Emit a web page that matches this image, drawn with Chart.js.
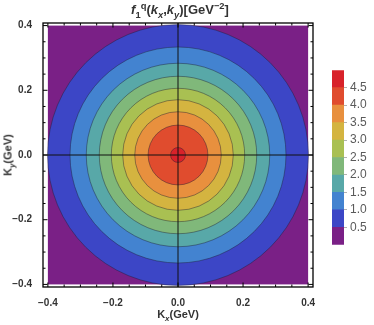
<!DOCTYPE html>
<html>
<head>
<meta charset="utf-8">
<script src="https://cdn.jsdelivr.net/npm/chart.js@4.4.1/dist/chart.umd.min.js"></script>
<style>
  body { margin: 0; background: #fff; }
  #wrap { position: relative; width: 374px; height: 325px; font-family: 'Liberation Sans', Arial, sans-serif; }
  canvas { position: absolute; }
  .lbl { position: absolute; font-weight: bold; color: #333; white-space: nowrap; line-height: 1; }
  .lbl sub, .lbl sup { font-size: 72%; line-height: 0; }
</style>
</head>
<body>
<div id="wrap">
  <canvas id="plot" width="374" height="325" style="left:0;top:0"></canvas>
  <canvas id="bar" width="48" height="195" style="left:326px;top:60px"></canvas>
  <div class="lbl" id="title" style="left:180px;top:3px;font-size:13px;transform:translateX(-50%)"><i>f</i><sub>1</sub><sup>q</sup>(<i>k<sub>x</sub></i>,<i>k<sub>y</sub></i>)[GeV<sup>−2</sup>]</div>
  <div class="lbl" style="left:178px;top:309px;font-size:11px;transform:translateX(-50%)">K<sub><i>x</i></sub>(GeV)</div>
  <div class="lbl" style="left:8px;top:155px;font-size:11px;transform:translate(-50%,-50%) rotate(-90deg)">K<sub><i>y</i></sub>(GeV)</div>
</div>
<script>
// contour levels and the radius (GeV) of each contour line
const levels = [0.5, 1.0, 1.5, 2.0, 2.5, 3.0, 3.5, 4.0, 4.5];
const radii = [0.401, 0.332, 0.282, 0.242, 0.205, 0.170, 0.133, 0.092, 0.023];
// colour of the band above each level
const bandColors = ['#3c46c6', '#4383d0', '#58a8a8', '#80b87a', '#a9c052', '#d4b440', '#e8903e', '#e04c2e', '#d8222a'];
const lowColor = '#7a2086';

// colour bar bands
const barLow = [0, 0.5, 1.0, 1.5, 2.0, 2.5, 3.0, 3.5, 4.0, 4.5];
const barHigh = [0.5, 1.0, 1.5, 2.0, 2.5, 3.0, 3.5, 4.0, 4.5, 5.0];
const barColors = [lowColor].concat(bandColors);
const barTicks = [0.5, 1.0, 1.5, 2.0, 2.5, 3.0, 3.5, 4.0, 4.5];

const dataRange = [-0.4, 0.4];
const majorTicks = [-0.4, -0.2, 0, 0.2, 0.4];
const minorTicks = [-0.4, -0.35, -0.3, -0.25, -0.2, -0.15, -0.1, -0.05, 0, 0.05, 0.1, 0.15, 0.2, 0.25, 0.3, 0.35, 0.4];

const fmt = v => (v < 0 ? '\u2212' : '') + Math.abs(v).toFixed(1);
const tickFont = { family: "'Liberation Sans', Arial, sans-serif", size: 10, weight: 'bold' };

const framePlugin = {
  id: 'framePlugin',
  beforeDatasetsDraw(chart) {
    const { ctx, scales: { x, y } } = chart;
    const x0 = x.getPixelForValue(dataRange[0]), x1 = x.getPixelForValue(dataRange[1]);
    const y0 = y.getPixelForValue(dataRange[1]), y1 = y.getPixelForValue(dataRange[0]);
    ctx.save();
    ctx.fillStyle = lowColor;
    ctx.fillRect(x0, y0, x1 - x0, y1 - y0);
    ctx.restore();
  },
  afterDatasetsDraw(chart) {
    const { ctx, chartArea: a, scales: { x, y } } = chart;
    ctx.save();
    ctx.strokeStyle = '#111';
    ctx.lineWidth = 1;
    ctx.beginPath();
    const zx = x.getPixelForValue(0), zy = y.getPixelForValue(0);
    ctx.moveTo(zx, a.top); ctx.lineTo(zx, a.bottom);
    ctx.moveTo(a.left, zy); ctx.lineTo(a.right, zy);
    ctx.stroke();

    ctx.strokeStyle = '#000';
    ctx.lineWidth = 1.3;
    ctx.strokeRect(a.left, a.top, a.right - a.left, a.bottom - a.top);

    ctx.lineWidth = 1;
    ctx.beginPath();
    minorTicks.forEach(v => {
      const len = majorTicks.some(m => Math.abs(m - v) < 1e-9) ? 4.5 : 2.5;
      const px = x.getPixelForValue(v), py = y.getPixelForValue(v);
      ctx.moveTo(px, a.bottom); ctx.lineTo(px, a.bottom - len);
      ctx.moveTo(px, a.top); ctx.lineTo(px, a.top + len);
      ctx.moveTo(a.left, py); ctx.lineTo(a.left + len, py);
      ctx.moveTo(a.right, py); ctx.lineTo(a.right - len, py);
    });
    ctx.stroke();
    ctx.restore();
  }
};

const pixRadius = ctx => {
  const s = ctx.chart.scales.x;
  return s.getPixelForValue(radii[ctx.dataIndex]) - s.getPixelForValue(0);
};

new Chart(document.getElementById('plot'), {
  type: 'scatter',
  data: {
    datasets: [{
      data: levels.map(() => ({ x: 0, y: 0 })),
      pointRadius: pixRadius,
      pointHoverRadius: pixRadius,
      pointBackgroundColor: bandColors,
      pointBorderColor: 'rgba(30,30,50,0.55)',
      pointBorderWidth: 0.8,
    }],
  },
  options: {
    responsive: false,
    animation: false,
    layout: { padding: { left: 0, top: 23, right: 61, bottom: 0 } },
    plugins: { legend: { display: false }, tooltip: { enabled: false } },
    scales: {
      x: {
        min: -0.415, max: 0.415,
        afterBuildTicks: s => { s.ticks = majorTicks.map(v => ({ value: v })); },
        afterFit: s => { s.height = 38; },
        grid: { display: false },
        border: { display: false },
        ticks: { callback: fmt, font: tickFont, color: '#333', padding: 2, maxRotation: 0 },
      },
      y: {
        min: -0.408, max: 0.408,
        afterBuildTicks: s => { s.ticks = majorTicks.map(v => ({ value: v })); },
        afterFit: s => { s.width = 43; },
        grid: { display: false },
        border: { display: false },
        ticks: { callback: fmt, font: tickFont, color: '#333', padding: 3 },
      },
    },
  },
  plugins: [framePlugin],
});

new Chart(document.getElementById('bar'), {
  type: 'bar',
  data: {
    labels: [''],
    datasets: barLow.map((lo, i) => ({
      data: [[lo, barHigh[i]]],
      backgroundColor: barColors[i],
      borderWidth: 0,
      barPercentage: 1,
      categoryPercentage: 1,
    })),
  },
  options: {
    responsive: false,
    animation: false,
    layout: { padding: { left: 6, top: 7, right: 0, bottom: 8 } },
    plugins: { legend: { display: false }, tooltip: { enabled: false } },
    scales: {
      x: { stacked: true, display: false },
      y: {
        position: 'right',
        min: 0, max: 5,
        z: 1,
        afterBuildTicks: s => { s.ticks = barTicks.map(v => ({ value: v })); },
        afterFit: s => { s.width = 30; },
        grid: { color: 'rgba(0,0,0,0.3)', tickLength: 3 },
        border: { display: false },
        ticks: { callback: v => v.toFixed(1), font: { family: "'Liberation Sans', Arial, sans-serif", size: 12 }, color: '#5a5a5a', padding: 3 },
      },
    },
  },
});
</script>
</body>
</html>
